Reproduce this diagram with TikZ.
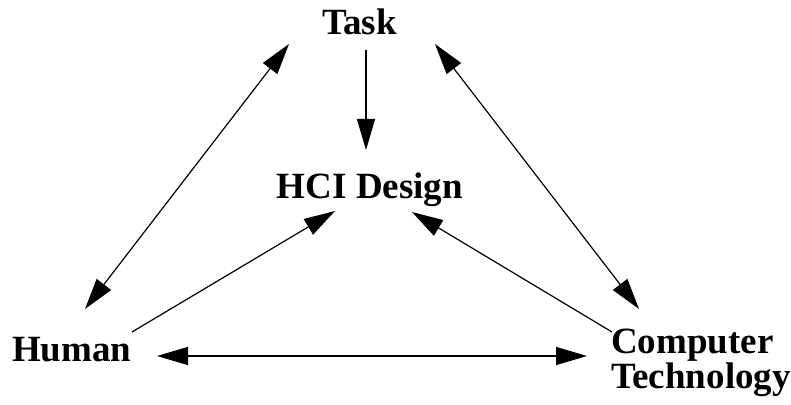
\documentclass[tikz,border=0pt]{standalone}
\usepackage{fontspec}
\setmainfont{Liberation Serif}
\usetikzlibrary{arrows.meta}
\begin{document}
\begin{tikzpicture}[x=1pt,y=1pt,
  label/.style={font=\fontsize{37}{31}\selectfont\bfseries, inner sep=0pt},
  link/.style={line width=1.2pt, -{Triangle[length=31pt,width=18pt]}},
  biglink/.style={line width=1.2pt, {Triangle[length=31pt,width=18pt]}-{Triangle[length=31pt,width=18pt]}}]
  \useasboundingbox (0,0) rectangle (791,404);

  % labels
  \node[label, anchor=base] (task) at (359.5,369) {Task};
  \node[label, anchor=base] (hci) at (370,205) {HCI Design};
  \node[label, anchor=base west] (human) at (12,43) {Human};
  \node[label, anchor=base west, align=left] (comp) at (611,16) {Computer\\Technology};

  % arrow end points next to the labels
  \coordinate (taskL) at (289,360);
  \coordinate (taskR) at (435,360);
  \coordinate (taskB) at (366,354);
  \coordinate (hciT)  at (366,254);
  \coordinate (hciL)  at (335,193);
  \coordinate (hciR)  at (412,192);
  \coordinate (humT)  at (85,95);
  \coordinate (humTR) at (132,72);
  \coordinate (humR)  at (157,48);
  \coordinate (compT) at (639,95);
  \coordinate (compTL) at (612,72);
  \coordinate (compL) at (587,48);

  % connectors
  \draw[biglink] (taskL) -- (humT);
  \draw[biglink] (taskR) -- (compT);
  \draw[link] (taskB) -- (hciT);
  \draw[link] (humTR) -- (hciL);
  \draw[link] (compTL) -- (hciR);
  \draw[biglink] (humR) -- (compL);
\end{tikzpicture}
\end{document}
